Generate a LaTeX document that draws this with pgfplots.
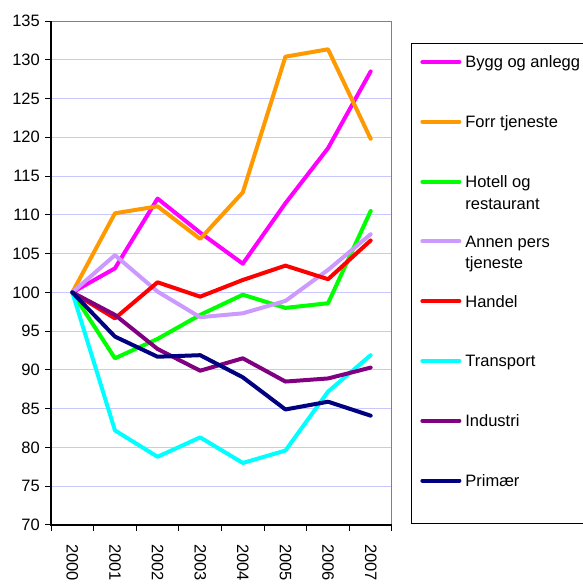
\documentclass[border=0pt]{standalone}
\usepackage{fontspec}
\setmainfont{Liberation Sans}
\usepackage{pgfplots}
\pgfplotsset{compat=1.18}
\definecolor{cBygg}{RGB}{255,0,255}
\definecolor{cForr}{RGB}{255,153,0}
\definecolor{cHotell}{RGB}{0,255,0}
\definecolor{cAnnen}{RGB}{204,153,255}
\definecolor{cHandel}{RGB}{255,0,0}
\definecolor{cTransport}{RGB}{0,255,255}
\definecolor{cIndustri}{RGB}{128,0,128}
\definecolor{cPrimaer}{RGB}{0,0,128}
\definecolor{cGrid}{RGB}{200,200,255}
\begin{document}
\fontsize{16.5}{20}\selectfont
\begin{tikzpicture}[x=1pt,y=1pt]
\useasboundingbox (0,0) rectangle (582,584);
\begin{axis}[
  scale only axis, width=341pt, height=504pt,
  at={(51pt,59pt)}, anchor=south west,
  xmin=-0.5, xmax=7.5, ymin=70, ymax=135,
  ytick={70,75,...,135},
  xtick={-0.5,0.5,...,7.5},
  x tick label as interval,
  xticklabels={2000,2001,2002,2003,2004,2005,2006,2007},
  xtick pos=bottom, ytick pos=left,
  tick align=outside, major tick length=6pt,
  tick style={black, line width=1pt},
  /pgf/number format/assume math mode=true,
  yticklabel style={inner sep=0pt, xshift=-5pt},
  xticklabel style={rotate=-90, anchor=west, inner sep=0pt},
  xticklabel shift=13pt,
  ymajorgrids, grid style={cGrid, line width=1pt},
  axis line style={gray, line width=1pt},
  every axis plot/.append style={line width=4pt, line join=round, line cap=round},
  legend image code/.code={\draw[#1, line width=4pt, line cap=round] (2pt,6pt) -- (39pt,6pt);},
  legend cell align=left,
  legend style={at={(1.0557,0.9563)}, anchor=north west, draw=black, line width=0.8pt,
    inner xsep=9pt, inner ysep=1pt, row sep=0pt, column sep=4pt,
    nodes={inner sep=0pt, text height=23.5pt, text depth=36.3pt, anchor=base west}},
  after end axis/.code={\draw[black, line width=1.2pt] (rel axis cs:0,1) -- (rel axis cs:0,0) -- (rel axis cs:1,0);},
]
\addplot[cBygg] coordinates {(0,100) (1,103.1) (2,112.1) (3,107.7) (4,103.7) (5,111.5) (6,118.6) (7,128.5)};
\addlegendentry{Bygg og anlegg}
\addplot[cForr] coordinates {(0,100) (1,110.2) (2,111.1) (3,106.9) (4,112.9) (5,130.4) (6,131.35) (7,119.8)};
\addlegendentry{Forr tjeneste}
\addplot[cHotell] coordinates {(0,100) (1,91.5) (2,94.0) (3,97.1) (4,99.7) (5,98.0) (6,98.6) (7,110.5)};
\addlegendentry{\parbox[t]{110pt}{\fontsize{16.5}{21.5}\selectfont Hotell og\\restaurant}}
\addplot[cAnnen] coordinates {(0,100) (1,104.8) (2,100.1) (3,96.8) (4,97.3) (5,98.9) (6,102.9) (7,107.5)};
\addlegendentry{\parbox[t]{110pt}{\fontsize{16.5}{21.5}\selectfont Annen pers\\tjeneste}}
\addplot[cHandel] coordinates {(0,100) (1,96.65) (2,101.3) (3,99.45) (4,101.6) (5,103.45) (6,101.7) (7,106.7)};
\addlegendentry{Handel}
\addplot[cTransport] coordinates {(0,100) (1,82.2) (2,78.8) (3,81.3) (4,78.0) (5,79.6) (6,87.2) (7,91.9)};
\addlegendentry{Transport}
\addplot[cIndustri] coordinates {(0,100) (1,97.1) (2,92.7) (3,89.9) (4,91.5) (5,88.5) (6,88.9) (7,90.3)};
\addlegendentry{Industri}
\addplot[cPrimaer] coordinates {(0,100) (1,94.3) (2,91.7) (3,91.9) (4,89.05) (5,84.9) (6,85.9) (7,84.1)};
\addlegendentry{Primær}
\end{axis}
\end{tikzpicture}
\end{document}
